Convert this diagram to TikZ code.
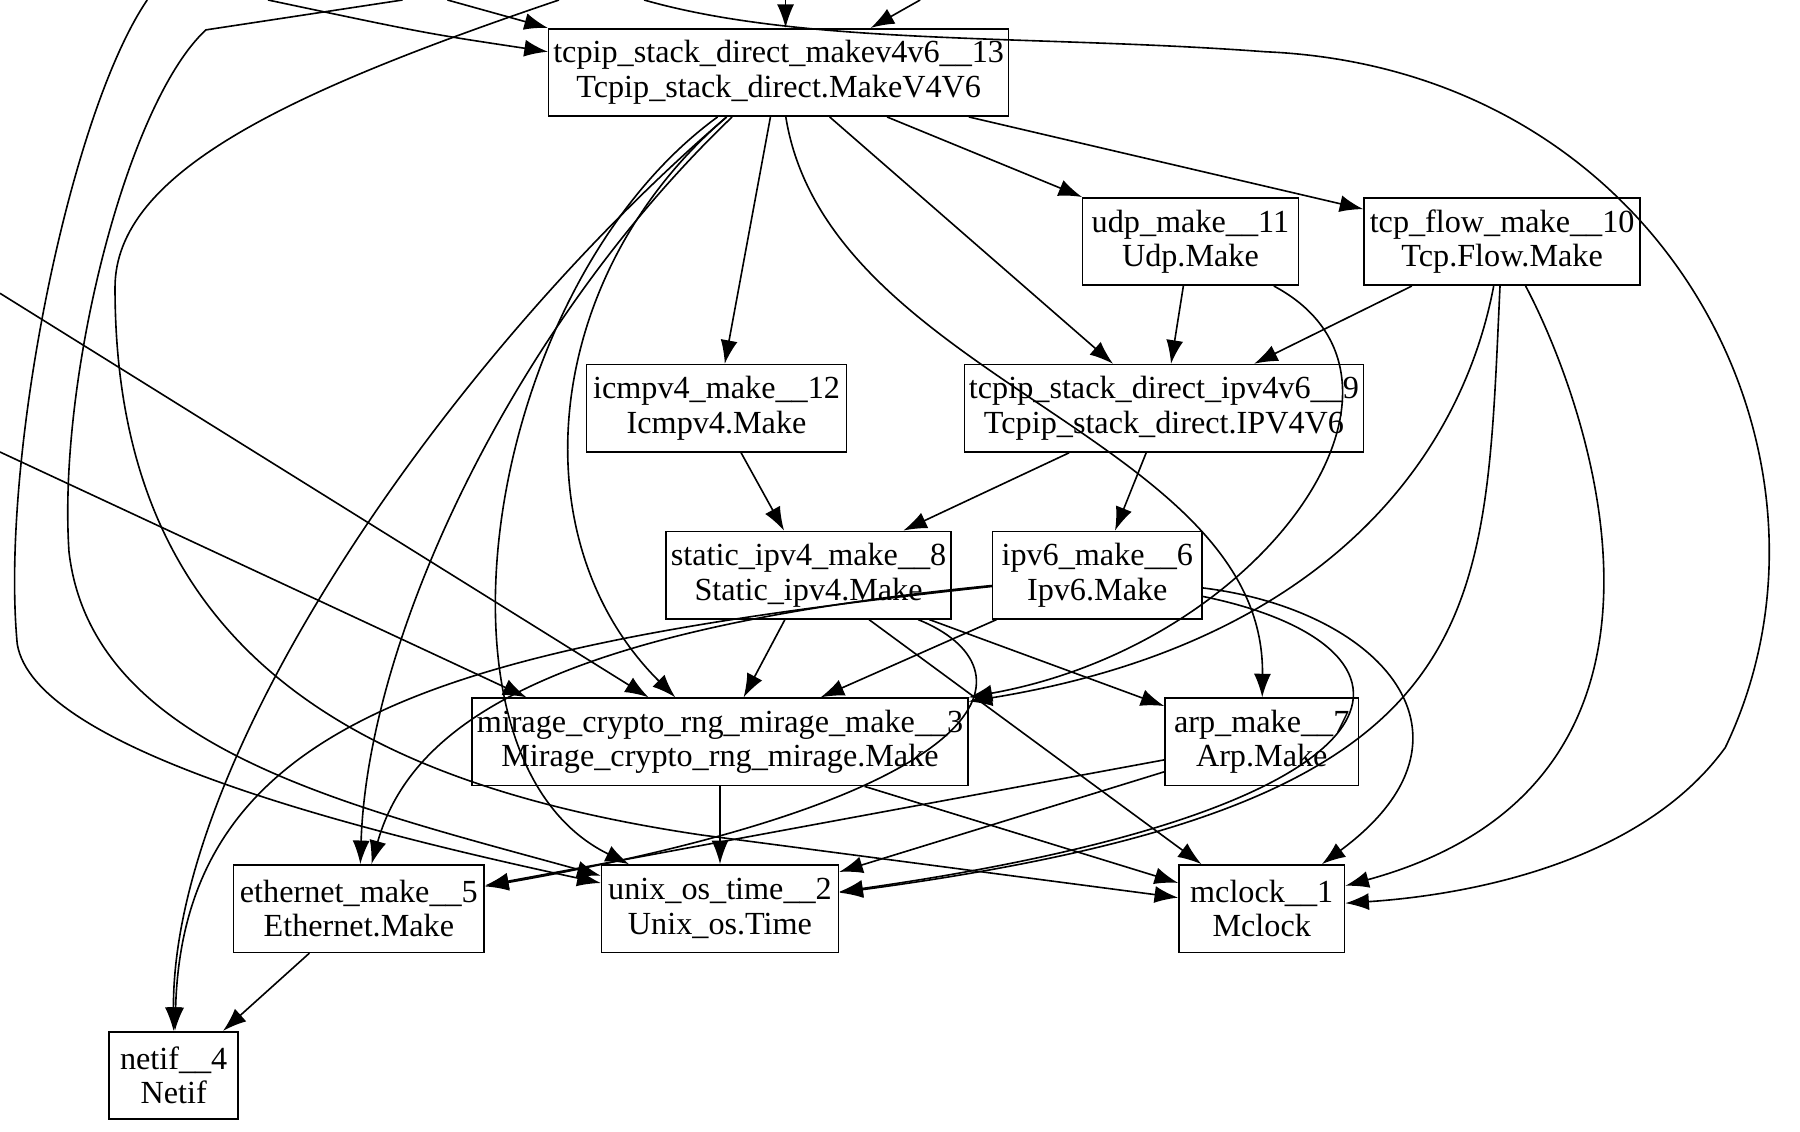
\documentclass[tikz,border=0pt]{standalone}
\usepackage{fontspec}
\setmainfont{Liberation Serif}
\usetikzlibrary{arrows.meta}

\tikzset{
  box/.style={draw, line width=0.7pt, minimum height=38pt, inner sep=2pt, align=center,
    font=\fontsize{14pt}{15pt}\selectfont},
  dep/.style={line width=0.7pt, -{Latex[length=3.6mm,width=2.6mm]}}
}

\begin{document}
\begin{tikzpicture}[x=0.5pt,y=-0.5pt]
\useasboundingbox (0,0) rectangle (1565,984);
\path (677,63) node (stack13) [box, minimum width=193pt] {tcpip\_stack\_direct\_makev4v6\_\_13\\Tcpip\_stack\_direct.MakeV4V6};
\path (1035,210) node (udp11) [box, minimum width=94pt] {udp\_make\_\_11\\Udp.Make};
\path (1306,210) node (tcp10) [box, minimum width=120pt] {tcp\_flow\_make\_\_10\\Tcp.Flow.Make};
\path (623,355) node (icmp12) [box, minimum width=113pt] {icmpv4\_make\_\_12\\Icmpv4.Make};
\path (1012,355) node (ip9) [box, minimum width=168pt] {tcpip\_stack\_direct\_ipv4v6\_\_9\\Tcpip\_stack\_direct.IPV4V6};
\path (703,500) node (ipv4n8) [box, minimum width=124pt] {static\_ipv4\_make\_\_8\\Static\_ipv4.Make};
\path (954,500) node (ipv6n6) [box, minimum width=91pt] {ipv6\_make\_\_6\\Ipv6.Make};
\path (626,645) node (rng3) [box, minimum width=209pt] {mirage\_crypto\_rng\_mirage\_make\_\_3\\Mirage\_crypto\_rng\_mirage.Make};
\path (1097,645) node (arp7) [box, minimum width=84pt] {arp\_make\_\_7\\Arp.Make};
\path (312,790) node (eth5) [box, minimum width=109pt] {ethernet\_make\_\_5\\Ethernet.Make};
\path (626,790) node (time2) [box, minimum width=103pt] {unix\_os\_time\_\_2\\Unix\_os.Time};
\path (1097,790) node (clock1) [box, minimum width=72pt] {mclock\_\_1\\Mclock};
\path (151,935) node (netif4) [box, minimum width=56pt] {netif\_\_4\\Netif};
% loose ends coming in from outside the picture
\coordinate (in1) at (128,0);
\coordinate (in2) at (350,0);
\coordinate (in3) at (486,0);
\coordinate (in4) at (0,255);
\coordinate (in5) at (0,393);
\coordinate (in6) at (233,0);
\coordinate (in7) at (389,0);
\coordinate (in8) at (683,0);
\coordinate (in9) at (800,0);
\coordinate (in10) at (560,0);
% straight edges
\draw[dep] (stack13) -- (udp11);
\draw[dep] (stack13) -- (tcp10);
\draw[dep] (stack13) -- (icmp12);
\draw[dep] (stack13) -- (ip9);
\draw[dep] (udp11) -- (ip9);
\draw[dep] (tcp10) -- (ip9);
\draw[dep] (icmp12) -- (ipv4n8);
\draw[dep] (ip9) -- (ipv4n8);
\draw[dep] (ip9) -- (ipv6n6);
\draw[dep] (ipv4n8) -- (rng3);
\draw[dep] (ipv6n6) -- (rng3);
\draw[dep] (ipv4n8) -- (arp7);
\draw[dep] (ipv4n8) -- (clock1);
\draw[dep] (rng3) -- (time2);
\draw[dep] (rng3) -- (clock1);
\draw[dep] (arp7) -- (eth5);
\draw[dep] (arp7) -- (time2);
\draw[dep] (eth5) -- (netif4);
% curved edges
\draw[dep] (stack13) .. controls (470,240) and (450,470) .. (rng3);
\draw[dep] (stack13) .. controls (420,250) and (360,660) .. (time2);
\draw[dep] (stack13) .. controls (450,280) and (320,550) .. (eth5);
\draw[dep] (stack13) .. controls (400,300) and (150,650) .. (netif4);
\draw[dep] (stack13) .. controls (720,330) and (1100,380) .. (arp7);
\draw[dep] (udp11) .. controls (1260,330) and (1100,560) .. (rng3);
\draw[dep] (tcp10) .. controls (1270,400) and (1150,560) .. (rng3);
\draw[dep] (tcp10) .. controls (1290,550) and (1300,700) .. (time2);
\draw[dep] (tcp10) .. controls (1380,350) and (1500,680) .. (clock1);
\draw[dep] (ipv6n6) .. controls (1200,530) and (1300,640) .. (clock1);
\draw[dep] (ipv6n6) .. controls (1250,560) and (1260,700) .. (time2);
\draw[dep] (ipv6n6) .. controls (500,545) and (360,620) .. (eth5);
\draw[dep] (ipv6n6) .. controls (400,560) and (160,620) .. (netif4);
\draw[dep] (ipv4n8) .. controls (900,580) and (880,690) .. (eth5);
% edges from outside
\draw[dep] (in1) .. controls (60,100) and (0,400) .. (15,560) .. controls (30,650) and (300,720) .. (time2);
\draw[dep] (in2) -- (179,26) .. controls (110,90) and (50,330) .. (60,480) .. controls (80,650) and (300,700) .. (time2);
\draw[dep] (in3) .. controls (250,80) and (100,150) .. (100,250) .. controls (100,560) and (300,680) .. (610,726) -- (clock1);
\draw[dep] (in4) -- (rng3);
\draw[dep] (in5) -- ([xshift=24pt]rng3.north west);
\draw[dep] (in6) .. controls (370,29) .. ([yshift=9pt]stack13.west);
\draw[dep] (in7) -- (stack13.north west);
\draw[dep] (in8) -- ([xshift=3pt]stack13.north);
\draw[dep] (in9) -- ([xshift=40pt]stack13.north);
\draw[dep] (in10) .. controls (700,40) and (900,30) .. (1100,45) .. controls (1450,60) and (1620,400) .. (1500,650) .. controls (1420,760) and (1250,780) .. (clock1);
\end{tikzpicture}
\end{document}
